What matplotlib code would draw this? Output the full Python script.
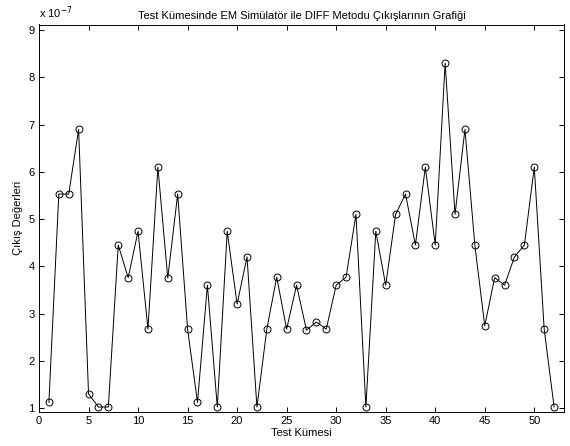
import numpy as np
import matplotlib
matplotlib.use('Agg')
import matplotlib.pyplot as plt

plt.rcParams['font.family'] = ['Liberation Sans', 'DejaVu Sans']

# outputs, in units of 1e-7
test_set = np.arange(1, 53)
outputs = [1.12, 5.53, 5.53, 6.9, 1.3, 1.02, 1.02, 4.45, 3.76, 4.74,
           2.67, 6.1, 3.75, 5.53, 2.67, 1.12, 3.6, 1.02, 4.74, 3.2,
           4.2, 1.02, 2.67, 3.77, 2.67, 3.6, 2.65, 2.82, 2.67, 3.6,
           3.77, 5.1, 1.02, 4.74, 3.6, 5.1, 5.53, 4.45, 6.1, 4.45,
           8.3, 5.1, 6.9, 4.45, 2.74, 3.76, 3.6, 4.2, 4.45, 6.1,
           2.67, 1.02]
xticks = [0, 5, 10, 15, 20, 25, 30, 35, 40, 45, 50]
yticks = [1, 2, 3, 4, 5, 6, 7, 8, 9]

fig = plt.figure(figsize=(5.7, 4.46), dpi=100)
ax = fig.add_axes([39/570, 34/446, 525/570, 387.5/446])

ax.plot(test_set, outputs, color='black', linewidth=0.7,
        marker='o', markersize=5, markerfacecolor='none',
        markeredgecolor='black', markeredgewidth=0.7)

ax.set_xlim(0, 53)
ax.set_ylim(0.915, 9.12)
ax.set_xticks(xticks)
ax.set_yticks(yticks)
ax.tick_params(direction='in', top=True, right=True, labelsize=8,
               length=3.5, width=0.7, pad=3)
for s in ax.spines.values():
    s.set_linewidth(0.7)

ax.set_title('Test Kümesinde EM Simülatör ile DIFF Metodu Çıkışlarının Grafiği',
             fontsize=8, pad=4)
ax.set_xlabel('Test Kümesi', fontsize=8, labelpad=1)
ax.set_ylabel('Çıkış Değerleri', fontsize=8, labelpad=4)
ax.text(0.0, 1.01, r'x 10$^{-7}$', transform=ax.transAxes, fontsize=8,
        ha='left', va='bottom')

fig.savefig('out.png', dpi=100)
